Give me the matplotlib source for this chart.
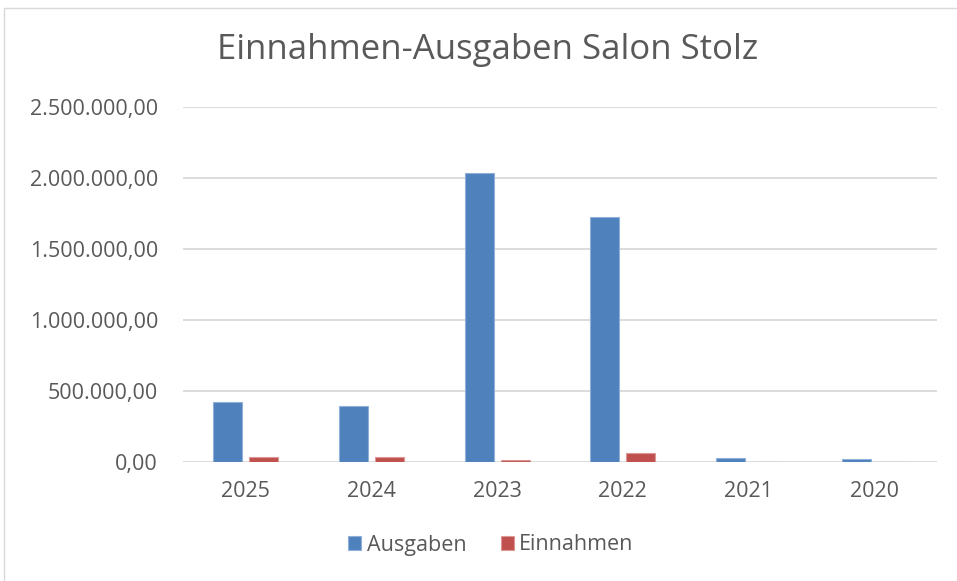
import matplotlib
matplotlib.use("Agg")
import matplotlib.pyplot as plt
import numpy as np
from matplotlib.patches import Rectangle

years = ["2025", "2024", "2023", "2022", "2021", "2020"]
ausgaben = [422000, 394000, 2033000, 1727000, 30000, 18000]
einnahmen = [33000, 33000, 15000, 63000, 0, 0]
yticks = [0, 500000, 1000000, 1500000, 2000000, 2500000]

def fmt(v):
    s = f"{v:,.2f}"
    return s.replace(",", "X").replace(".", ",").replace("X", ".")

W, H = 957, 581
fig = plt.figure(figsize=(W/100, H/100), dpi=100)
plt.rcParams['font.family'] = ['Open Sans', 'DejaVu Sans']
tc = "#595959"

# outer frame
fig.patches.append(Rectangle((4/W, -0.1), 1.2, (H-8)/H + 0.1, transform=fig.transFigure,
                             fill=False, edgecolor="#D9D9D9", linewidth=1.0))

ax = fig.add_axes([183/W, 1-462/H, (937-183)/W, (462-107)/H])
x = np.arange(len(years))
bw = 0.23
off = 0.143
ax.bar(x - off, ausgaben, bw, color="#4F81BD", edgecolor="#8FB0D8", linewidth=0.8, label="Ausgaben", zorder=3)
ax.bar(x + off, einnahmen, bw, color="#C0504D", edgecolor="#DC9896", linewidth=0.8, label="Einnahmen", zorder=3)

ax.set_xlim(-0.5, len(years) - 0.5)
ax.set_ylim(0, 2500000)
ax.set_yticks(yticks)
ax.set_yticklabels([fmt(v) for v in yticks], fontsize=15.5, color=tc)
ax.set_xticks(x)
ax.set_xticklabels(years, fontsize=15.5, color=tc)
ax.tick_params(axis='both', length=0)
ax.tick_params(axis='y', pad=18)
ax.tick_params(axis='x', pad=14)
ax.grid(axis='y', color="#D9D9D9", linewidth=1.3, zorder=0)
for s in ax.spines.values():
    s.set_visible(False)

fig.text(488/W, 1-50/H, "Einnahmen-Ausgaben Salon Stolz", ha='center', va='center',
         fontsize=25, color=tc)

leg = fig.legend(loc='center', bbox_to_anchor=(491/W, 1-545/H), ncol=2, frameon=False,
                 fontsize=15.5, handlelength=0.6, handleheight=0.6, handletextpad=0.25,
                 columnspacing=1.6, labelcolor=tc)

fig.savefig("out.png", dpi=100)
